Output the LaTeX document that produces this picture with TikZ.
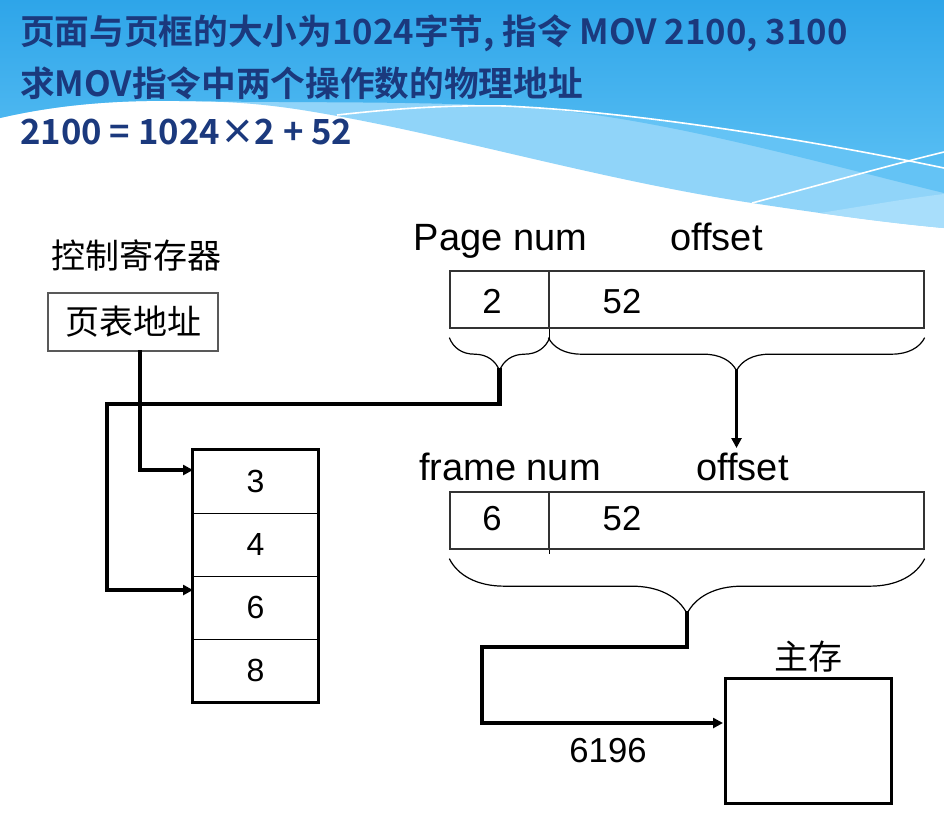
\documentclass[tikz,border=0pt]{standalone}
\usepackage{fontspec}
\usepackage{tikz}
\usetikzlibrary{arrows.meta,decorations.pathreplacing}
\setmainfont{Liberation Sans}
\newfontfamily\cjk{Noto Sans CJK SC}
\newfontfamily\ttlfont{Noto Sans CJK SC Bold}
\definecolor{ttlblue}{RGB}{27,57,125}
\definecolor{skytop}{RGB}{46,165,233}
\definecolor{skylow}{RGB}{88,190,243}
\definecolor{skymid}{RGB}{100,195,245}
\definecolor{skylight}{RGB}{144,212,249}
\definecolor{skypale}{RGB}{168,222,251}

\tikzset{
  ttl/.style={anchor=west,text=ttlblue,inner sep=0pt,font=\ttlfont\fontsize{26}{28}\selectfont},
  lbl/.style={anchor=base,inner sep=0pt,font=\fontsize{28.5}{30}\selectfont},
  num/.style={anchor=base,inner sep=0pt,font=\fontsize{26}{28}\selectfont},
  zh/.style={inner sep=0pt,font=\cjk\fontsize{25.5}{27}\selectfont},
  cell/.style={draw=black!80,line width=1pt,minimum height=42.75pt,inner sep=0pt},
  row/.style={draw,line width=.75pt,minimum width=93.75pt,minimum height=47.25pt,inner sep=0pt,font=\fontsize{24}{26}\selectfont},
  bus/.style={line width=3.3pt,line cap=rect},
  feed/.style={line width=2.3pt,-{Triangle[length=7.5pt,width=7.5pt]}},
  brc/.style={decorate,decoration={brace,mirror,amplitude=#1},line width=.9pt},
  brc/.default=24.75pt
}

\begin{document}
\begin{tikzpicture}[x=0.75pt,y=-0.75pt]
\fill[white] (0,0) rectangle (944,826);
\useasboundingbox (0,0) rectangle (944,826);
% sky background
\fill[skylight] (0,0) -- (944,0) -- (944,228) .. controls (900,224) and (830,215) .. (752,203) .. controls (600,180) and (450,135) .. (320,113) .. controls (280,106) and (240,101) .. (180,101) .. controls (120,100) and (60,104) .. (0,118) -- cycle;
\fill[skypale] (820,213) .. controls (870,205) and (910,198) .. (944,194) -- (944,228) .. controls (900,224) and (860,219) .. (820,213) -- cycle;
\fill[skymid] (505,106) .. controls (640,112) and (800,158) .. (944,193) -- (944,0) -- (505,0) -- cycle;
\shade[top color=skytop,bottom color=skylow] (0,0) -- (944,0) -- (944,168) .. controls (820,142) and (640,110) .. (505,106) .. controls (400,101) and (300,103) .. (180,101) .. controls (120,100) and (60,104) .. (0,118) -- cycle;
\draw[white,line width=1.2pt] (337,115) .. controls (400,108) and (450,105) .. (505,106) .. controls (640,112) and (820,142) .. (944,168);
\draw[white,line width=1.2pt] (752,203) .. controls (820,185) and (890,165) .. (944,152);

% title
\node[ttl] (t1) at (20,33) {页面与页框的大小为1024字节, 指令 MOV 2100, 3100};
\node[ttl] (t2) at (20,83) {求MOV指令中两个操作数的物理地址};
\node[ttl] (t3) at (20,132) {2100 = 1024×2 + 52};

% control register and page table
\node[zh] (ctlname) at (136,255) {控制寄存器};
\node[zh,draw=black!65,line width=1.1pt,minimum width=127.5pt,minimum height=43.5pt] (ctl) at (133,322) {页表地址};
\foreach \v [count=\i] in {3,4,6,8}
  \node[row] (r\i) at (255.5,{418.5+63*\i}) {\v};
\draw[line width=2.25pt] (r1.north west) rectangle (r4.south east);

% logical address
\node[lbl] (pnum) at (500.5,250) {Page num};
\node[lbl] (poff) at (716.5,250) {offset};
\node[cell,minimum width=74.25pt] (pg) at (499.5,299.5) {};
\node[cell,minimum width=281.25pt] (po) at (736.5,299.5) {};
\node[num] (pgv) at (492,313) {2};
\node[num] (pov) at (622,313) {52};
\draw[line width=1pt] (pg.south east) -- ++(0,9);
\draw[brc] ([yshift=-6.75pt]pg.south west) -- ([yshift=-6.75pt]pg.south east);
\draw[brc] ([yshift=-6.75pt]po.south west) -- ([yshift=-6.75pt]po.south east);
\coordinate (ptip) at (499.5,370);
\coordinate (otip) at (736.5,370);

% physical address
\node[lbl] (fnum) at (510,480) {frame num};
\node[lbl] (foff) at (742.5,480) {offset};
\node[cell,minimum width=74.25pt] (fr) at (499.5,520.5) {};
\node[cell,minimum width=281.25pt] (fo) at (736.5,520.5) {};
\node[num] (frv) at (492,530) {6};
\node[num] (fov) at (622,530) {52};
\draw[line width=1pt] (fr.south east) -- ++(0,4);
\draw[brc=41.25pt] ([yshift=-6.75pt]fr.south west) -- ([yshift=-6.75pt]fo.south east);
\coordinate (ftip) at (687,613);

% main memory
\node[zh] (memname) at (808,657) {主存};
\node[draw,line width=2.25pt,minimum width=124.5pt,minimum height=93.75pt] (mem) at (808,740.5) {};
\node[num] (addr) at (608,762) {6196};

% connectors
\coordinate (ctlout) at (140,352);
\coordinate (k1) at (140,470);
\coordinate (in3) at (193,470);
\draw[bus] (ctlout) -- (k1);
\draw[feed] (k1) -- (in3);
\coordinate (k2) at (107,404);
\coordinate (k3) at (107,590);
\coordinate (in6) at (193,590);
\draw[bus] (ptip) |- (k2) -- (k3);
\draw[feed] (k3) -- (in6);
\coordinate (fdown) at (736.5,448);
\draw[feed] (otip) -- (fdown);
\coordinate (k4) at (482,647);
\coordinate (k5) at (482,723);
\coordinate (memin) at (723,723);
\draw[bus] (ftip) |- (k4) -- (k5);
\draw[feed] (k5) -- (memin);
\end{tikzpicture}
\end{document}
